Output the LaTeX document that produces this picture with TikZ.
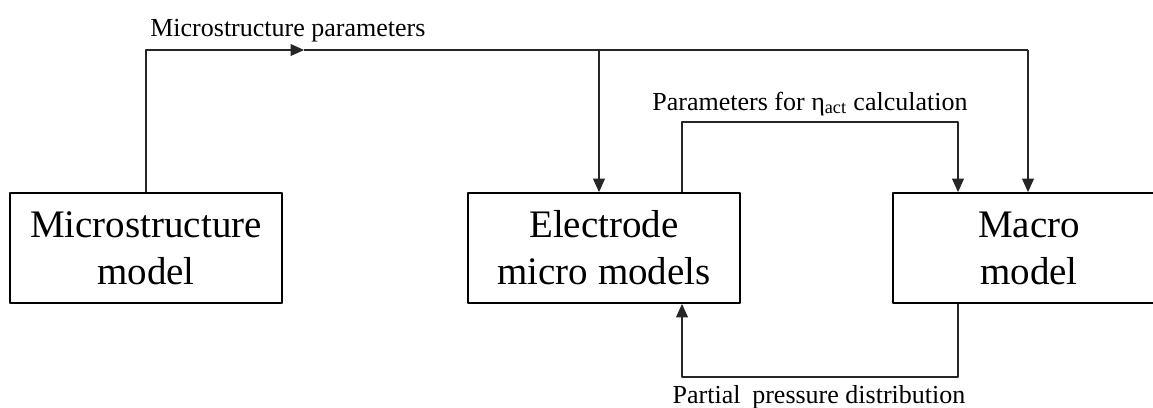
\documentclass[tikz,border=0pt]{standalone}
\usepackage{fontspec}
\setmainfont{Liberation Serif}
\usetikzlibrary{arrows.meta}
\tikzset{
  modelbox/.style={draw, line width=1.1pt, minimum width=5.44cm, minimum height=2.2cm,
    inner sep=0pt, align=center, font=\fontsize{22.2}{26.7}\selectfont},
  flow/.style={line width=0.6pt, draw=black!85},
  lbl/.style={font=\fontsize{14.8}{17}\selectfont, inner sep=0pt},
}
\begin{document}
\begin{tikzpicture}[x=0.02cm, y=-0.02cm, >={Triangle[length=0.27cm,width=0.24cm]}, line join=round]
    \useasboundingbox (0,0) rectangle (1153,407);
    % Khoi mo hinh
    \node[modelbox] (micro) at (146,248) {Microstructure\\model};
    \node[modelbox] (elec) at (604,248) {Electrode\\micro models};
    \node[modelbox] (macro) at (1029,248) {Macro\\model};
    % Diem gap
    \coordinate (mp) at (304,50);
    \coordinate (te) at (599,50);
    \coordinate (tm) at (1028,50);
    \coordinate (pe) at (682,122); \coordinate (pm) at (958,122);
    \coordinate (be) at (682,377); \coordinate (bm) at (958,377);
    % Microstructure parameters
    \draw[flow,->] (micro.north) |- (mp);
    \draw[flow] (mp) -- (tm);
    \draw[flow,->] (te) -- (te |- elec.north);
    \draw[flow,->] (tm) -- (tm |- macro.north);
    \node[lbl, anchor=base west] (lmp) at (150,36) {Microstructure parameters};
    % eta_act
    \draw[flow,->] (pe |- elec.north) -- (pe) -- (pm) -- (pm |- macro.north);
    \node[lbl, anchor=base] (leta) at (810,110) {Parameters for η\textsubscript{act} calculation};
    % ap suat rieng phan
    \draw[flow,->] (bm |- macro.south) -- (bm) -- (be) -- (be |- elec.south);
    \node[lbl, anchor=base] (lpp) at (819,403) {Partial\hspace{3pt} pressure distribution};
\end{tikzpicture}
\end{document}
